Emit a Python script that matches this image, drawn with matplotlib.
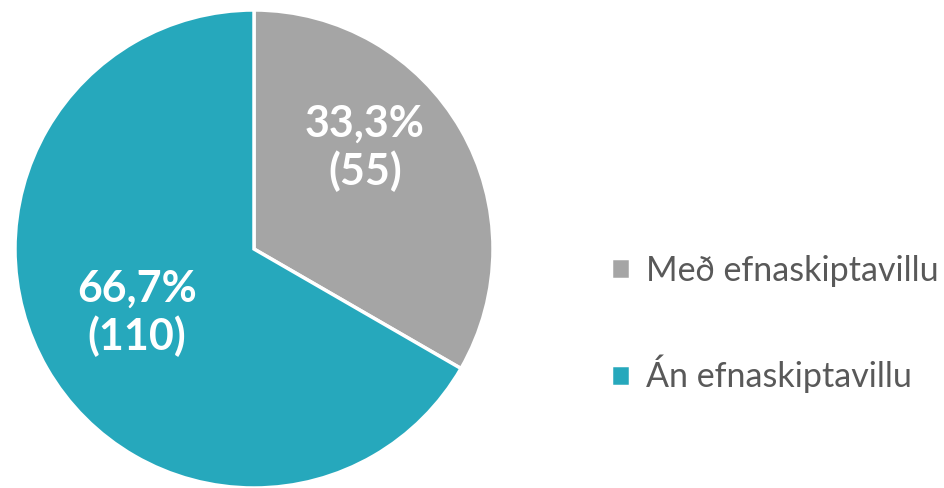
import matplotlib.pyplot as plt

labels = ["Með efnaskiptavillu", "Án efnaskiptavillu"]
counts = [55, 110]
colors = ["#A5A5A5", "#26A8BC"]

plt.rcParams['font.family'] = ['Lato', 'DejaVu Sans']

fig = plt.figure(figsize=(9.44, 4.88), dpi=100)
ax = fig.add_axes([0, 0, 1, 1])
ax.set_xlim(0, 944)
ax.set_ylim(0, 488)
ax.set_aspect('equal')
ax.axis('off')

wedges, _ = ax.pie(counts, colors=colors, startangle=90, counterclock=False,
                   center=(254, 239), radius=239,
                   wedgeprops=dict(edgecolor='white', linewidth=2.5))
ax.set_xlim(0, 944)
ax.set_ylim(0, 488)

total = sum(counts)
label_pos = [(365, 340), (137, 175)]
for n, (x, y) in zip(counts, label_pos):
    pct = f"{100 * n / total:.1f}".replace(".", ",")
    ax.text(x, y, f"{pct}%\n({n})", ha='center', va='center', color='white',
            fontsize=31, fontweight='bold', linespacing=1.2)

ax.legend(wedges, labels, loc='upper left', bbox_to_anchor=(580 / 944, 1 - 224 / 488),
          frameon=False, fontsize=24.5, labelcolor='#595959', labelspacing=2.0,
          handlelength=0.58, handleheight=0.58, handletextpad=0.45)

fig.savefig("out.png", dpi=100)
